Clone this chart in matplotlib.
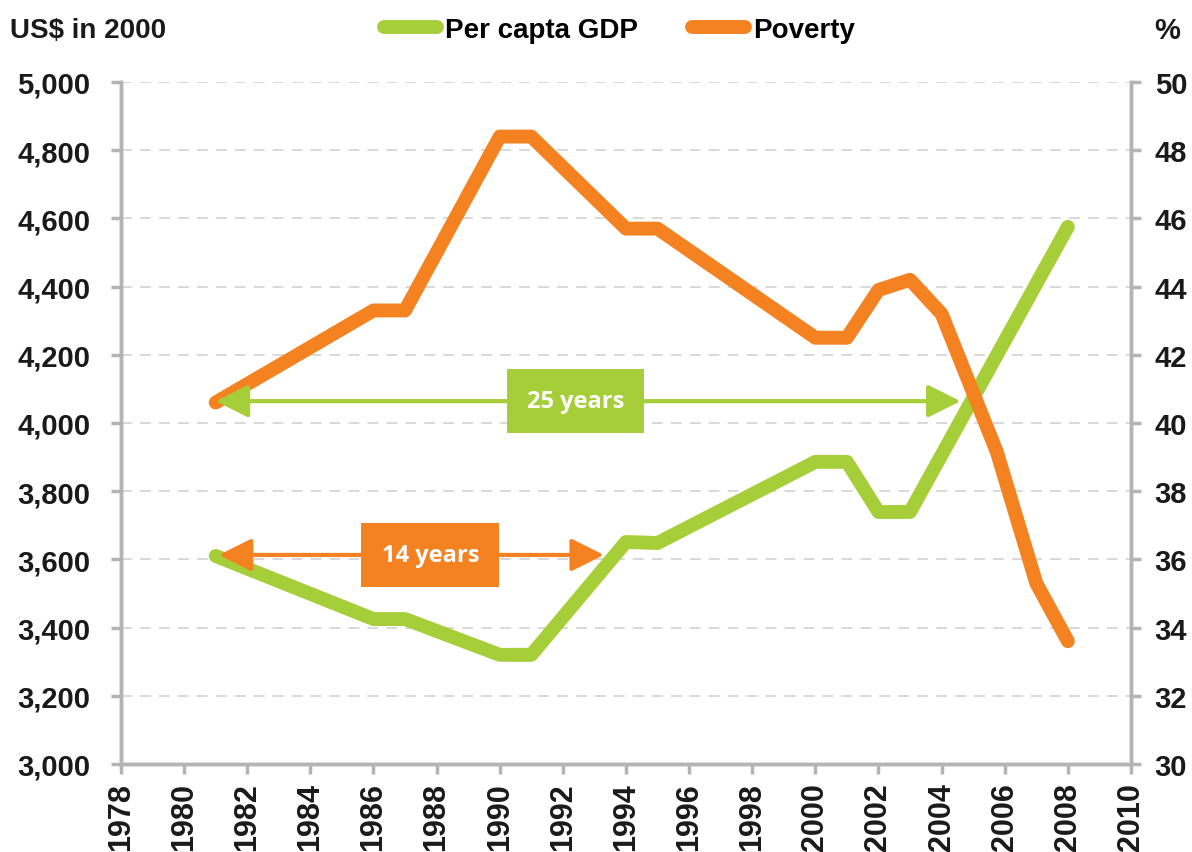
import matplotlib
matplotlib.use("Agg")
import matplotlib.pyplot as plt
from matplotlib import font_manager
from matplotlib.lines import Line2D

# data
gdp_years = [1981, 1986, 1987, 1990, 1991, 1994, 1995, 2000, 2001, 2002, 2003, 2008]
gdp_values = [3610, 3425, 3425, 3320, 3320, 3651, 3648, 3886, 3886, 3739, 3739, 4575]

pov_years = [1981, 1986, 1987, 1990, 1991, 1994, 1995, 2000, 2001, 2002, 2003, 2004, 2005.75, 2007, 2008]
pov_values = [40.6, 43.3, 43.3, 48.4, 48.4, 45.7, 45.7, 42.5, 42.5, 43.9, 44.2, 43.2, 39.15, 35.3, 33.6]

# annotations: (x start, x end, y on GDP axis, label x, text)
arrow_25 = (1981.0, 2004.6, 4064, 1992.4, "25 years")
arrow_14 = (1981.1, 1993.3, 3613, 1987.8, "14 years")

xticks = list(range(1978, 2011, 2))
left_ticks = list(range(3000, 5001, 200))
right_ticks = list(range(30, 51, 2))

green = "#a6ce39"
orange = "#f58220"
spine_col = "#b4b4b4"
grid_col = "#d6d6d6"
text_col = "#1a1a1a"

names = {f.name for f in font_manager.fontManager.ttflist}
narrow = "Liberation Sans Narrow" if "Liberation Sans Narrow" in names else "Liberation Sans"
box_font = "Open Sans"

fig = plt.figure(figsize=(11.92, 8.53), dpi=100)
ax1 = fig.add_axes([0.1015, 0.1032, 0.8473, 0.7995])
ax2 = ax1.twinx()

ax1.plot(gdp_years, gdp_values, color=green, lw=10, solid_capstyle="round",
         solid_joinstyle="round", zorder=3)
ax2.plot(pov_years, pov_values, color=orange, lw=10, solid_capstyle="round",
         solid_joinstyle="round", zorder=3)

ax1.set_xlim(1978, 2010)
ax1.set_ylim(3000, 5000)
ax2.set_ylim(30, 50)
ax1.set_xticks(xticks)
ax1.set_yticks(left_ticks)
ax2.set_yticks(right_ticks)
ax1.set_xticklabels([str(x) for x in xticks], rotation=90, fontsize=22,
                    fontweight="bold", family="Liberation Sans", va="top")
ax1.set_yticklabels([f"{v:,}" for v in left_ticks], fontsize=21,
                    fontweight="bold", family=narrow)
ax2.set_yticklabels([str(v) for v in right_ticks], fontsize=21,
                    fontweight="bold", family=narrow)

ax1.yaxis.grid(True, color=grid_col, lw=1.3, linestyle=(0, (6, 4.5)))
ax1.set_axisbelow(True)

for ax in (ax1, ax2):
    ax.spines["top"].set_visible(False)
    for s in ("left", "right", "bottom"):
        ax.spines[s].set_color(spine_col)
        ax.spines[s].set_linewidth(2.5)
    ax.tick_params(colors=spine_col, width=2.5, length=7, direction="out",
                   labelcolor=text_col)
ax1.tick_params(axis="x", pad=6)
ax1.tick_params(axis="y", pad=15)
ax2.tick_params(axis="y", pad=10)

# arrows with label boxes, drawn above both lines
for (x0, x1, y, lx, txt), col in ((arrow_25, green), (arrow_14, orange)):
    ax2.annotate("", xy=(x1, y), xytext=(x0, y), xycoords=ax1.transData,
                 textcoords=ax1.transData,
                 arrowprops=dict(arrowstyle="<|-|>,head_length=20,head_width=10",
                                 mutation_scale=1, color=col, lw=3,
                                 shrinkA=0, shrinkB=0), zorder=5)
    ax2.text(lx, y, txt, transform=ax1.transData, ha="center", va="center",
             color="white", fontsize=17, fontweight="bold", family=box_font,
             bbox=dict(boxstyle="square,pad=0.85", fc=col, ec="none"), zorder=6)

fig.text(0.008, 0.964, "US$ in 2000", fontsize=20, fontweight="bold",
         family=narrow, va="center", ha="left", color=text_col)
fig.text(0.99, 0.964, "%", fontsize=21, fontweight="bold", family=narrow,
         va="center", ha="right", color=text_col)

handles = [Line2D([], [], color=green, lw=10, solid_capstyle="round"),
           Line2D([], [], color=orange, lw=10, solid_capstyle="round")]
fig.legend(handles, ["Per capta GDP", "Poverty"], loc="center",
           bbox_to_anchor=(0.52, 0.964), ncol=2, frameon=False,
           prop=dict(family=narrow, weight="bold", size=20),
           handlelength=1.9, handletextpad=0.3, columnspacing=1.95)

fig.savefig("out.png", dpi=100)
